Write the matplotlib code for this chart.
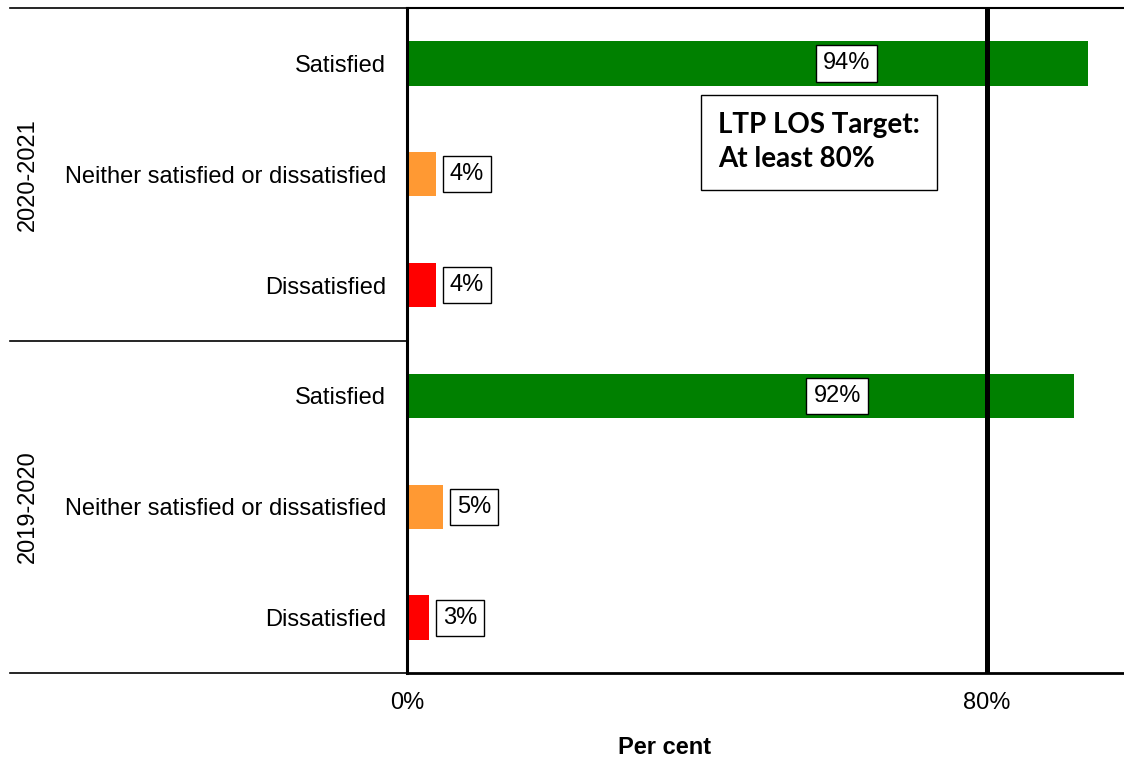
import matplotlib.pyplot as plt
from matplotlib.lines import Line2D
from matplotlib.transforms import blended_transform_factory

plt.rcParams['font.family'] = ['Liberation Sans', 'DejaVu Sans']

# survey results, top to bottom
groups = ["2020-2021", "2019-2020"]
categories = ["Satisfied", "Neither satisfied or dissatisfied", "Dissatisfied"]
values_2021 = [94, 4, 4]
values_2020 = [92, 5, 3]
colours = ["#008000", "#FF9933", "#FF0000"]
target = 80

labels = categories + categories
values = values_2021 + values_2020
bar_colours = colours + colours
ypos = list(range(len(values)))

FS = 17
W, H = 1124, 767
fig = plt.figure(figsize=(W / 100, H / 100), dpi=100)
ax = fig.add_axes([407 / W, 1 - 673 / H, (W - 407) / W, (673 - 8) / H])

ax.barh(ypos, values, height=0.4, color=bar_colours, zorder=2)
ax.set_ylim(len(values) - 0.5, -0.5)
ax.set_xlim(0, 98.9)

# target line
ax.axvline(target, color="black", lw=3.6, zorder=3)

# value labels
box = dict(boxstyle="square,pad=0.3", fc="white", ec="black", lw=1)
for y, v in zip(ypos, values):
    if v > 50:
        ax.text(v * 0.645, y, f"{v}%", ha="center", va="center", fontsize=FS,
                bbox=box, zorder=4)
    else:
        ax.annotate(f"{v}%", (v, y), xytext=(10, 0), textcoords="offset points",
                    ha="left", va="center", fontsize=FS, bbox=box, zorder=4)

ax.text(0.434, 0.798, "LTP LOS Target:\nAt least 80%", transform=ax.transAxes,
        ha="left", va="center", fontsize=20, fontweight="bold", family="Lato",
        linespacing=1.38,
        bbox=dict(boxstyle="square,pad=0.62", fc="white", ec="black", lw=1),
        zorder=4)

ax.set_yticks(ypos)
ax.set_yticklabels(labels, fontsize=FS)
ax.tick_params(axis="y", length=0, pad=15)
ax.set_xticks([0, target])
ax.set_xticklabels(["0%", "80%"], fontsize=FS)
ax.tick_params(axis="x", length=0, pad=14)

ax.spines["right"].set_visible(False)
ax.spines["left"].set_linewidth(2.2)
ax.spines["top"].set_linewidth(1.5)
ax.spines["bottom"].set_linewidth(2.0)

# group separators and labels left of the axis
trans = blended_transform_factory(ax.transAxes, ax.transData)
x0 = (10 - 407) / (W - 407)
for y in [-0.5, 2.5, 5.5]:
    ax.add_line(Line2D([x0, 0], [y, y], transform=trans, color="black",
                       lw=1.2, clip_on=False))
for i, g in enumerate(groups):
    ax.text((28 - 407) / (W - 407), 3 * i + 1, g, transform=trans, rotation=90,
            ha="center", va="center", fontsize=FS)

fig.text(665 / W, 1 - 748 / H, "Per cent", ha="center", va="center",
         fontsize=FS, fontweight="bold")

fig.savefig("out.png", dpi=100)
